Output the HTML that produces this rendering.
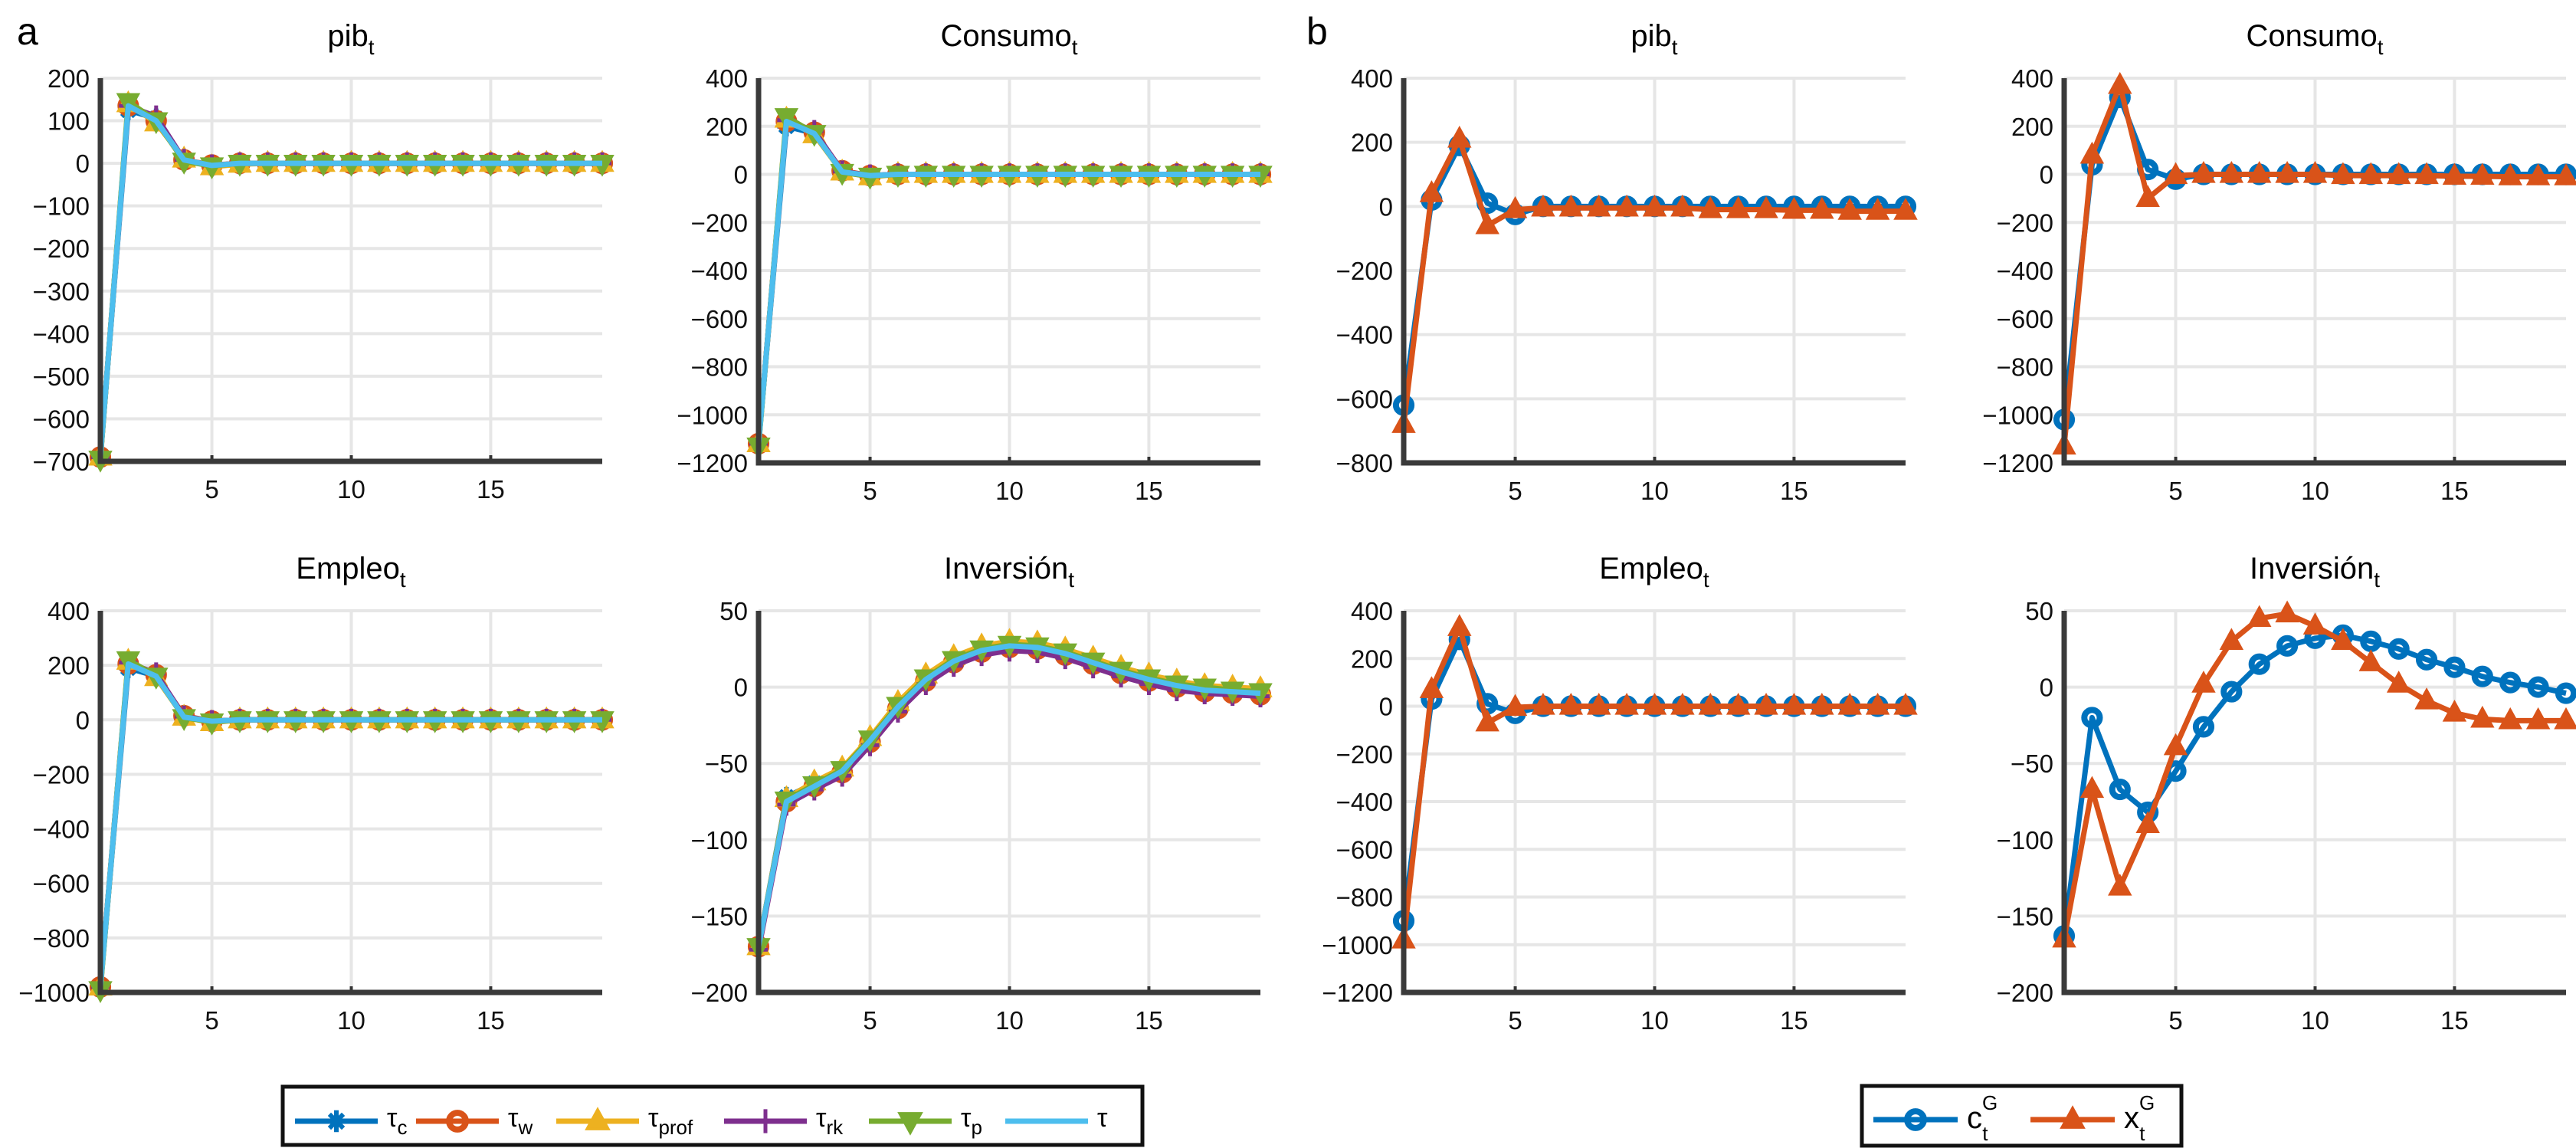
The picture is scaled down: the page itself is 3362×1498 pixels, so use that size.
<!DOCTYPE html>
<html><head><meta charset="utf-8"><style>
body{margin:0;background:#fff;}
svg{display:block;font-family:"Liberation Sans",sans-serif;}
</style></head><body>
<svg id="fig" width="3362" height="1498" viewBox="0 0 3362 1498" xmlns="http://www.w3.org/2000/svg"></svg>
<script>
const xs = [1,2,3,4,5,6,7,8,9,10,11,12,13,14,15,16,17,18,19];
const xTicks = [5,10,15];
// Panel a series (tau_c, tau_w, tau_prof, tau_rk, tau_p, tau)
const pibA = [
 [-690,125,105,5,-5,0,0,0,0,0,0,0,0,0,0,0,0,0,0],
 [-690,135,100,8,-4,0,0,0,0,0,0,0,0,0,0,0,0,0,0],
 [-690,140,95,10,-8,-2,0,0,0,0,0,0,0,0,0,0,0,0,0],
 [-690,135,110,8,-5,0,0,0,0,0,0,0,0,0,0,0,0,0,0],
 [-695,145,100,5,-6,0,0,0,0,0,0,0,0,0,0,0,0,0,0],
 [-690,135,100,8,-5,0,0,0,0,0,0,0,0,0,0,0,0,0,0]];
const conA = [
 [-1120,200,170,10,-5,0,0,0,0,0,0,0,0,0,0,0,0,0,0],
 [-1120,220,175,15,-5,0,0,0,0,0,0,0,0,0,0,0,0,0,0],
 [-1120,230,165,10,-10,0,0,0,0,0,0,0,0,0,0,0,0,0,0],
 [-1120,225,180,12,-5,0,0,0,0,0,0,0,0,0,0,0,0,0,0],
 [-1130,240,170,8,-8,0,0,0,0,0,0,0,0,0,0,0,0,0,0],
 [-1120,220,170,10,-5,0,0,0,0,0,0,0,0,0,0,0,0,0,0]];
const empA = [
 [-980,190,160,10,-5,0,0,0,0,0,0,0,0,0,0,0,0,0,0],
 [-980,205,165,15,-5,0,0,0,0,0,0,0,0,0,0,0,0,0,0],
 [-980,215,155,10,-10,0,0,0,0,0,0,0,0,0,0,0,0,0,0],
 [-980,210,170,12,-5,0,0,0,0,0,0,0,0,0,0,0,0,0,0],
 [-990,220,160,8,-8,0,0,0,0,0,0,0,0,0,0,0,0,0,0],
 [-980,205,160,10,-5,0,0,0,0,0,0,0,0,0,0,0,0,0,0]];
const invA = [
 [-170,-72,-63,-55,-35,-13,5,17,24,27,26,22,16,10,5,1,-2,-3,-4],
 [-170,-75,-65,-56,-36,-14,4,16,23,26,25,21,15,9,4,0,-3,-4,-5],
 [-170,-73,-62,-53,-33,-10,8,20,27,30,29,25,19,13,8,4,1,0,-1],
 [-172,-77,-67,-58,-38,-16,2,14,21,24,23,19,13,7,2,-2,-4,-5,-6],
 [-170,-74,-64,-54,-34,-12,6,18,25,28,27,23,17,11,6,2,0,-2,-3],
 [-170,-75,-65,-55,-35,-13,5,17,24,27,26,22,16,10,5,1,-2,-3,-4]];
// Panel b series (c_t^G, x_t^G)
const pibB = [
 [-620,20,190,10,-25,0,0,0,0,0,0,0,0,0,0,0,0,0,0],
 [-680,40,210,-60,-10,-5,-5,-5,-5,-5,-5,-10,-10,-10,-12,-12,-15,-15,-15]];
const conB = [
 [-1020,40,320,20,-20,0,0,0,0,0,0,0,0,0,0,0,0,0,0],
 [-1130,80,370,-100,-5,0,0,0,0,0,-5,-5,-5,-5,-8,-8,-10,-10,-10]];
const empB = [
 [-900,30,280,10,-30,0,0,0,0,0,0,0,0,0,0,0,0,0,0],
 [-980,70,330,-70,-5,0,0,0,0,0,0,0,0,0,0,0,0,0,0]];
const invB = [
 [-163,-20,-67,-82,-55,-26,-3,15,27,32,34,30,25,18,13,7,3,0,-4],
 [-165,-67,-131,-90,-39,2,30,45,48,40,30,16,2,-9,-17,-21,-22,-22,-22]];
const yTicksPibA = [-700,-600,-500,-400,-300,-200,-100,0,100,200];
const yTicksCon = [-1200,-1000,-800,-600,-400,-200,0,200,400];
const yTicksEmpA = [-1000,-800,-600,-400,-200,0,200,400];
const yTicksInv = [-200,-150,-100,-50,0,50];
const yTicksPibB = [-800,-600,-400,-200,0,200,400];
const legendA = ["c","w","prof","rk","p",""];
const legendB = ["c","x"];

const NS="http://www.w3.org/2000/svg";
const svg=document.getElementById('fig');
function mk(tag,attrs,parent){const e=document.createElementNS(NS,tag);for(const k in attrs)e.setAttribute(k,attrs[k]);(parent||svg).appendChild(e);return e;}
const colsA=["#0072BD","#D95319","#EDB120","#7E2F8E","#77AC30","#4DBEEE"];
const mkA=["star","circle","tri","plus","tridown","none"];
const colsB=["#0072BD","#D95319"];
const mkB=["circle","tri"];

function marker(g,type,cx,cy,col,s){
  let e=null;
  if(type==="circle"){e=mk('circle',{cx:cx,cy:cy,r:s*0.42,fill:"none",stroke:col,'stroke-width':8},g);}
  else if(type==="tri"){e=mk('polygon',{points:`${cx},${cy-s*0.6} ${cx-s*0.55},${cy+s*0.4} ${cx+s*0.55},${cy+s*0.4}`,fill:col,stroke:col,'stroke-width':3},g);}
  else if(type==="tridown"){e=mk('polygon',{points:`${cx},${cy+s*0.6} ${cx-s*0.55},${cy-s*0.4} ${cx+s*0.55},${cy-s*0.4}`,fill:col,stroke:col,'stroke-width':3},g);}
  else if(type==="plus"){e=mk('path',{d:`M${cx-s*0.5},${cy}H${cx+s*0.5}M${cx},${cy-s*0.6}V${cy+s*0.6}`,stroke:col,'stroke-width':5},g);}
  else if(type==="star"){e=mk('path',{d:`M${cx-s*0.5},${cy}H${cx+s*0.5}M${cx},${cy-s*0.55}V${cy+s*0.55}M${cx-s*0.35},${cy-s*0.35}L${cx+s*0.35},${cy+s*0.35}M${cx-s*0.35},${cy+s*0.35}L${cx+s*0.35},${cy-s*0.35}`,stroke:col,'stroke-width':6},g);}
  if(e){}
}

function panel(name,title,left,top,bottom,yTicks,series,cols,mks,lw){
  const right=left+655, ymin=yTicks[0], ymax=yTicks[yTicks.length-1];
  const X=v=>left+(v-1)/18*655, Y=v=>bottom-(v-ymin)/(ymax-ymin)*(bottom-top);
  const g=mk('g',{});
  
  
  const t=mk('text',{x:left+327,y:top-42,'font-size':40,'text-anchor':'middle',fill:'#000'},g);
  
  t.appendChild(document.createTextNode(title));
  const sub=mk('tspan',{'font-size':28,dy:11},t);sub.textContent='t';
  yTicks.forEach(v=>{
    const l=mk('line',{x1:left,x2:right,y1:Y(v),y2:Y(v),stroke:'#e6e6e6','stroke-width':4},g);
    
    const tx=mk('text',{x:left-14,y:Y(v)+12,'font-size':33,'text-anchor':'end',fill:'#111'},g);
    
    tx.textContent=(v<0?'\u2212'+(-v):''+v);
  });
  xTicks.forEach(v=>{
    const l=mk('line',{x1:X(v),x2:X(v),y1:top,y2:bottom,stroke:'#e6e6e6','stroke-width':4},g);
    
    const tx=mk('text',{x:X(v),y:bottom+48,'font-size':33,'text-anchor':'middle',fill:'#111'},g);
    
    tx.textContent=''+v;
    const tk=mk('line',{x1:X(v),x2:X(v),y1:bottom,y2:bottom-8,stroke:'#333','stroke-width':4},g);
    
  });
  series.forEach((s,i)=>{
    const sg=mk('g',{},g);
    
    const p=mk('polyline',{points:s.map((v,j)=>X(xs[j])+','+Y(v)).join(' '),fill:'none',stroke:cols[i],'stroke-width':lw,'stroke-linejoin':'round'},sg);
    
    s.forEach((v,j)=>marker(sg,mks[i],X(xs[j]),Y(v),cols[i],24));
  });
  const ax=mk('path',{d:`M${left},${top}V${bottom}H${right}`,fill:'none',stroke:'#3a3a3a','stroke-width':7},g);
  
}

panel('pib-a-chart','pib',131,102,602,yTicksPibA,pibA,colsA,mkA,7);
panel('consumo-a-chart','Consumo',990,102,604,yTicksCon,conA,colsA,mkA,7);
panel('empleo-a-chart','Empleo',131,797,1295,yTicksEmpA,empA,colsA,mkA,7);
panel('inversion-a-chart','Inversión',990,797,1295,yTicksInv,invA,colsA,mkA,7);
panel('pib-b-chart','pib',1832,102,604,yTicksPibB,pibB,colsB,mkB,7);
panel('consumo-b-chart','Consumo',2694,102,604,yTicksCon,conB,colsB,mkB,7);
panel('empleo-b-chart','Empleo',1832,797,1295,yTicksCon,empB,colsB,mkB,7);
panel('inversion-b-chart','Inversión',2694,797,1295,yTicksInv,invB,colsB,mkB,7);

const la=mk('text',{x:22,y:58,'font-size':50,fill:'#000'});
la.textContent='a';
const lb=mk('text',{x:1705,y:58,'font-size':50,fill:'#000'});
lb.textContent='b';

// legend a
const lgA=mk('g',{});

mk('rect',{x:369,y:1418,width:1122,height:76,fill:'#fff',stroke:'#111','stroke-width':5},lgA);
const laX=[385,543,726,945,1134,1312];
legendA.forEach((s,i)=>{
  const e=mk('g',{},lgA);
  
  mk('line',{x1:laX[i],x2:laX[i]+108,y1:1463,y2:1463,stroke:colsA[i],'stroke-width':7},e);
  marker(e,mkA[i],laX[i]+54,1463,colsA[i],26);
  const t=mk('text',{x:laX[i]+120,y:1470,'font-size':34,fill:'#000'},e);
  t.appendChild(document.createTextNode('τ'));
  if(s){const sp=mk('tspan',{'font-size':26,dy:10},t);sp.textContent=s;}
});
// legend b
const lgB=mk('g',{});

mk('rect',{x:2430,y:1417,width:417,height:78,fill:'#fff',stroke:'#111','stroke-width':5},lgB);
const lbX=[2445,2650];
legendB.forEach((s,i)=>{
  const e=mk('g',{},lgB);
  
  mk('line',{x1:lbX[i],x2:lbX[i]+110,y1:1461,y2:1461,stroke:colsB[i],'stroke-width':7},e);
  marker(e,mkB[i],lbX[i]+55,1461,colsB[i],26);
  const t=mk('text',{x:lbX[i]+122,y:1472,'font-size':40,fill:'#000'},e);
  t.appendChild(document.createTextNode(s));
  const sup=mk('tspan',{'font-size':26,dy:-24},t);sup.textContent='G';
  const sb=mk('tspan',{'font-size':26,dx:-20,dy:40},t);sb.textContent='t';
});
</script>
</body></html>
